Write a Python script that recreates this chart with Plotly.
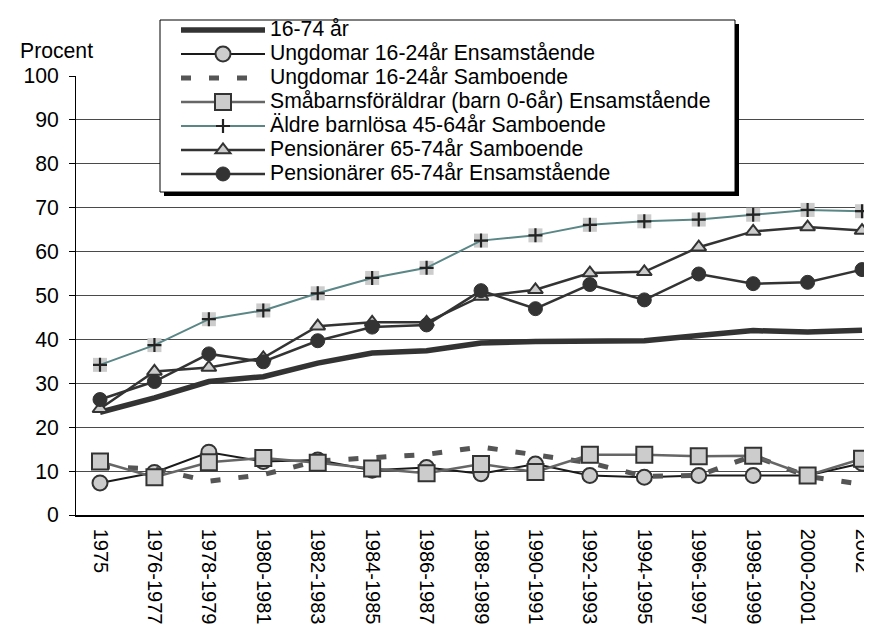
import plotly.graph_objects as go

categories = ["1975", "1976-1977", "1978-1979", "1980-1981", "1982-1983", "1984-1985",
              "1986-1987", "1988-1989", "1990-1991", "1992-1993", "1994-1995",
              "1996-1997", "1998-1999", "2000-2001", "2002"]

total_16_74 = [23.4, 26.7, 30.4, 31.5, 34.6, 36.9, 37.4, 39.2, 39.5, 39.7, 39.7, 40.9, 42.0, 41.7, 42.1]
ungdomar_ensam = [7.3, 9.7, 14.3, 12.2, 12.5, 10.2, 10.8, 9.4, 11.6, 9.0, 8.6, 9.0, 9.0, 9.0, 11.8]
ungdomar_sambo = [11.0, 10.5, 7.7, 9.2, 12.3, 13.0, 13.8, 15.5, 13.7, 11.9, 8.8, 9.0, 13.5, 8.8, 7.0]
smabarn_ensam = [12.2, 8.6, 12.0, 13.0, 11.9, 10.6, 9.5, 11.6, 9.8, 13.7, 13.7, 13.4, 13.5, 9.0, 12.8]
aldre_sambo = [34.2, 38.7, 44.6, 46.6, 50.5, 54.0, 56.3, 62.5, 63.7, 66.1, 66.9, 67.3, 68.4, 69.5, 69.2]
pens_sambo = [24.2, 32.7, 33.6, 35.8, 43.0, 43.9, 43.9, 49.8, 51.3, 55.1, 55.4, 61.0, 64.6, 65.6, 64.8]
pens_ensam = [26.3, 30.4, 36.7, 34.9, 39.7, 42.8, 43.3, 51.1, 47.0, 52.5, 49.0, 54.9, 52.7, 53.0, 55.9]

names = ["16-74 år",
         "Ungdomar 16-24år Ensamstående",
         "Ungdomar 16-24år Samboende",
         "Småbarnsföräldrar (barn 0-6år) Ensamstående",
         "Äldre barnlösa 45-64år Samboende",
         "Pensionärer 65-74år Samboende",
         "Pensionärer 65-74år Ensamstående"]

W, H = 872, 625
L, R, T, B = 68, 872, 68, 507
FONT = "Arial, Liberation Sans, sans-serif"
TXT = 21.2


def px_x(p):
    return (p - L) / (R - L)


def px_y(p):
    return (B - p) / (B - T)


def lbl(s):
    return '<span style="font-size:%.1fpx">%s</span>' % (TXT, s)


fig = go.Figure()

fig.add_trace(go.Scatter(x=categories, y=total_16_74, name=lbl(names[0]), mode="lines",
                         line=dict(color="#333333", width=5.5)))
fig.add_trace(go.Scatter(x=categories, y=ungdomar_ensam, name=lbl(names[1]), mode="lines+markers",
                         line=dict(color="#1a1a1a", width=2),
                         marker=dict(symbol="circle", size=15, color="#cccccc",
                                     line=dict(color="#333333", width=2))))
fig.add_trace(go.Scatter(x=categories, y=ungdomar_sambo, name=lbl(names[2]), mode="lines",
                         line=dict(color="#555555", width=5, dash="10px,18px")))
fig.add_trace(go.Scatter(x=categories, y=smabarn_ensam, name=lbl(names[3]), mode="lines+markers",
                         line=dict(color="#666666", width=2.5),
                         marker=dict(symbol="square", size=16, color="#cccccc",
                                     line=dict(color="#333333", width=2))))
fig.add_trace(go.Scatter(x=categories, y=aldre_sambo, name="bg", mode="markers", showlegend=False,
                         legendgroup="aldre",
                         marker=dict(symbol="square", size=14, color="#cccccc", line=dict(width=0))))
fig.add_trace(go.Scatter(x=categories, y=aldre_sambo, name=lbl(names[4]), mode="lines+markers",
                         legendgroup="aldre",
                         line=dict(color="#5b8686", width=2),
                         marker=dict(symbol="cross-thin", size=10, color="#222222",
                                     line=dict(color="#222222", width=2.2))))
fig.add_trace(go.Scatter(x=categories, y=pens_sambo, name=lbl(names[5]), mode="lines+markers",
                         line=dict(color="#333333", width=2.5),
                         marker=dict(symbol="triangle-up", size=13, color="#cccccc",
                                     line=dict(color="#333333", width=2))))
fig.add_trace(go.Scatter(x=categories, y=pens_ensam, name=lbl(names[6]), mode="lines+markers",
                         line=dict(color="#333333", width=2.5),
                         marker=dict(symbol="circle", size=14, color="#333333",
                                     line=dict(color="#333333", width=1))))

# legend frame with shadow (Excel style)
fig.add_shape(type="rect", xref="paper", yref="paper", layer="above",
              x0=px_x(156), x1=px_x(731), y0=px_y(188), y1=px_y(16),
              fillcolor="#000000", line=dict(width=0))
fig.add_shape(type="rect", xref="paper", yref="paper", layer="above",
              x0=px_x(152), x1=px_x(727), y0=px_y(184), y1=px_y(12),
              fillcolor="#ffffff", line=dict(color="#000000", width=1))

fig.add_annotation(text="Procent", xref="paper", yref="paper", x=px_x(10), y=px_y(42),
                   xanchor="left", yanchor="middle", showarrow=False,
                   font=dict(family=FONT, size=TXT, color="#000000"))

fig.update_layout(
    width=W, height=H,
    margin=dict(l=L, r=W - R, t=T, b=H - B, autoexpand=False),
    paper_bgcolor="#ffffff", plot_bgcolor="#ffffff",
    font=dict(family=FONT, size=TXT, color="#000000"),
    showlegend=True,
    legend=dict(x=px_x(168), y=px_y(5), xanchor="left", yanchor="top",
                bgcolor="rgba(0,0,0,0)", borderwidth=0,
                font=dict(family=FONT, size=16.15, color="#000000"),
                itemwidth=84, tracegroupgap=0),
    xaxis=dict(type="category", range=[-0.441, 14.33], showgrid=False, zeroline=False,
               showline=True, linecolor="#000000", linewidth=1.5,
               ticks="", tickangle=90, ticklabelstandoff=8, automargin=False,
               tickfont=dict(family=FONT, size=20, color="#000000")),
    yaxis=dict(range=[0, 100], dtick=10, tick0=0, showgrid=True, gridcolor="#4a4a4a", gridwidth=1,
               zeroline=False, showline=True, linecolor="#000000", linewidth=1,
               ticks="outside", ticklen=6, tickcolor="#000000", automargin=False,
               ticklabelstandoff=6,
               tickfont=dict(family=FONT, size=TXT, color="#000000")),
)

fig.write_html("out.html")
